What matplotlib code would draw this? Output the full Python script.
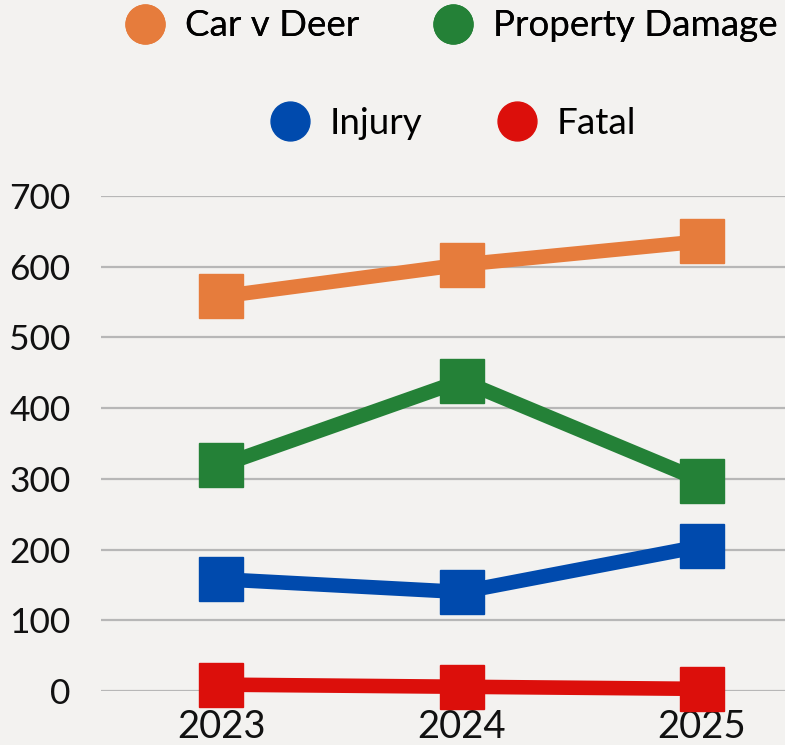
import matplotlib
matplotlib.use("Agg")
import matplotlib.pyplot as plt
from matplotlib.lines import Line2D

# data
years = ["2023", "2024", "2025"]
car_v_deer = [558, 603, 636]
property_damage = [319, 439, 297]
injury = [158, 140, 205]
fatal = [9, 6, 3]

series_names = ["Car v Deer", "Property Damage", "Injury", "Fatal"]
colors = ["#e67c3c", "#248137", "#004aad", "#dc0f0b"]
bg = "#f3f2f0"

plt.rcParams["font.family"] = ["Lato", "DejaVu Sans"]

fig = plt.figure(figsize=(7.85, 7.45), dpi=100, facecolor=bg)
W, H = 785, 745
# plot area in pixels: left 101, right edge of image, y=0 at 691, y=700 at 196
ax = fig.add_axes([101 / W, (H - 691) / H, (W - 101) / W, (691 - 196) / H])
ax.set_facecolor(bg)

x = list(range(len(years)))
for vals, col in zip([car_v_deer, property_damage, injury, fatal], colors):
    ax.plot(x, vals, color=col, lw=10.5, marker="s", markersize=31,
            solid_joinstyle="miter", clip_on=False, zorder=3)

ax.set_ylim(0, 700)
ax.set_xlim(-0.5, 2.345)
ax.set_yticks(range(0, 701, 100))
ax.set_xticks(x)
ax.set_xticklabels(years)
ax.grid(axis="y", color="#b7b7b7", lw=1.6, zorder=0)
ax.axhline(0, color="#7a7a7a", lw=1.8, zorder=1)
for s in ax.spines.values():
    s.set_visible(False)
ax.tick_params(axis="both", length=0, colors="#111111")
ax.tick_params(axis="y", pad=22, labelsize=25.5)
ax.tick_params(axis="x", pad=13, labelsize=27.5)

# legend in two rows
handles = [Line2D([], [], ls="none", marker="o", markersize=28, color=c) for c in colors]
leg1 = fig.legend(handles[:2], series_names[:2], loc="center", ncol=2,
                  bbox_to_anchor=(450 / W, 1 - 26 / H), frameon=False,
                  fontsize=26.5, handletextpad=0.48, columnspacing=1.95,
                  handlelength=1.2, borderpad=0)
fig.add_artist(leg1)
fig.legend(handles[2:], series_names[2:], loc="center", ncol=2,
           bbox_to_anchor=(452 / W, 1 - 123 / H), frameon=False,
           fontsize=26.5, handletextpad=0.48, columnspacing=1.95,
           handlelength=1.2, borderpad=0)

fig.savefig("out.png", dpi=100, facecolor=bg)
